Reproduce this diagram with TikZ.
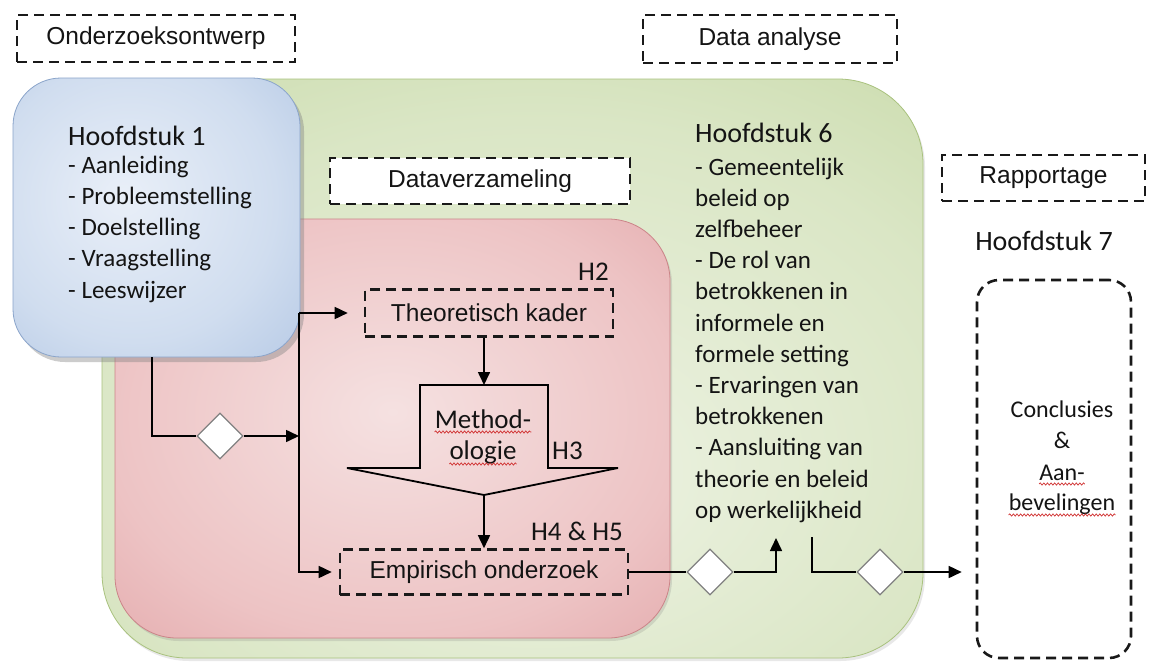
\documentclass[tikz,border=0pt]{standalone}
\usepackage{fontspec}
\setmainfont{Carlito}
\newfontfamily\lblfont{Liberation Sans}
\usetikzlibrary{arrows.meta,shapes.geometric,shadows,calc,decorations.pathmorphing}

\definecolor{txt}{HTML}{141414}
\definecolor{grnIn}{HTML}{EEF3E4}
\definecolor{grnMid}{HTML}{DAE6C5}
\definecolor{grnOut}{HTML}{B1CA84}
\definecolor{grnEdge}{HTML}{A9C27E}
\definecolor{redIn}{HTML}{F5E1E1}
\definecolor{redMid}{HTML}{EDC3C4}
\definecolor{redOut}{HTML}{D58488}
\definecolor{redEdge}{HTML}{CB8488}
\definecolor{bluIn}{HTML}{E9EFF8}
\definecolor{bluMid}{HTML}{D0DDEF}
\definecolor{bluOut}{HTML}{93AFD8}
\definecolor{bluEdge}{HTML}{8AA4CA}
\definecolor{squigred}{HTML}{D03030}

\pgfdeclareradialshading{greenglow}{\pgfpoint{2bp}{-10bp}}{color(0bp)=(grnIn); color(28bp)=(grnMid); color(62bp)=(grnOut); color(80bp)=(grnOut)}
\pgfdeclareradialshading{redglow}{\pgfpoint{0bp}{2bp}}{color(0bp)=(redIn); color(26bp)=(redMid); color(60bp)=(redOut); color(80bp)=(redOut)}
\pgfdeclareradialshading{blueglow}{\pgfpoint{-6bp}{4bp}}{color(0bp)=(bluIn); color(25bp)=(bluMid); color(62bp)=(bluOut); color(80bp)=(bluOut)}

\tikzset{
  phase/.style={inner sep=0pt, line width=0.8pt},
  dashlbl/.style={draw=black!90, line width=2.6pt, dash pattern=on 10pt off 6pt,
    font=\lblfont\fontsize{24.5}{28}\selectfont, text=txt, inner sep=0pt},
  hd/.style={font=\fontsize{28}{32}\selectfont, text=txt, inner sep=0pt},
  item/.style={font=\fontsize{25}{30}\selectfont, text=txt, inner sep=0pt},
  small/.style={font=\fontsize{24}{28}\selectfont, text=txt, inner sep=0pt},
  tag/.style={font=\fontsize{27}{30}\selectfont, text=txt, inner sep=0pt},
  conn/.style={draw=black, line width=1.6pt},
  arr/.style={conn, -{Triangle[length=13pt,width=12pt]}},
  gate/.style={diamond, draw=black!50, fill=white, line width=1.3pt,
    minimum width=46pt, minimum height=46pt, inner sep=0pt},
  squig/.style={draw=squigred, line width=0.7pt, decorate,
    decoration={snake, amplitude=1.1pt, segment length=3.6pt}},
}

\begin{document}
\begin{tikzpicture}[x=1pt,y=-1pt]
\useasboundingbox (0,0) rectangle (1155,664);
\fill[white] (0,0) rectangle (1155,664);

% phase panels
\node[phase, shading=greenglow, draw=grnEdge, rounded corners=85pt,
      minimum width=821pt, minimum height=579pt,
      drop shadow={shadow xshift=2pt, shadow yshift=-3pt, opacity=.18}]
  (analyse) at (512.5,368.5) {};
\node[phase, shading=redglow, draw=redEdge, rounded corners=62pt,
      minimum width=555pt, minimum height=419pt,
      drop shadow={shadow xshift=2pt, shadow yshift=-3pt, opacity=.22}]
  (verzamel) at (392.5,428.5) {};
\node[phase, shading=blueglow, draw=bluEdge, rounded corners=48pt,
      minimum width=287pt, minimum height=279pt,
      drop shadow={shadow xshift=4pt, shadow yshift=-5pt, opacity=.4}]
  (ch1) at (156.5,217.5) {};

% phase labels
\node[dashlbl, minimum width=278pt, minimum height=47pt] (ontw) at (156,38.5) {Onderzoeksontwerp};
\node[dashlbl, minimum width=254pt, minimum height=48pt] (dana) at (770,39) {Data analyse};
\node[dashlbl, fill=white, minimum width=300pt, minimum height=46pt] (dverz) at (480,181) {Dataverzameling};
\node[dashlbl, minimum width=203pt, minimum height=46pt] (rapp) at (1043.5,178) {Rapportage};

% steps inside data collection
\node[dashlbl, minimum width=248pt, minimum height=47pt] (tk) at (489,313) {Theoretisch kader};
\node[dashlbl, minimum width=288pt, minimum height=45pt] (emp) at (484,572) {Empirisch onderzoek};

% block arrow for the methodology
\coordinate (mtop) at (484,385);
\coordinate (mtip) at (484,495);
\draw[line width=1.8pt, line join=miter]
  (420,385) -- (mtop) -- (548,385) -- (548,468) -- (618,468) -- (mtip)
  -- (347,468) -- (420,468) -- cycle;
\node[tag, anchor=base] (mt1) at (483,428) {Method-};
\node[tag, anchor=base] (mt2) at (483,459) {ologie};
\draw[squig] ([yshift=-4pt]mt1.base west) -- ([yshift=-4pt]mt1.base east);
\draw[squig] ([yshift=-5pt]mt2.base west) -- ([yshift=-5pt]mt2.base east);

% chapter tags
\node[tag, anchor=base west] (th2) at (578,280) {H2};
\node[tag, anchor=base west] (th3) at (552,459) {H3};
\node[tag, anchor=base east] (th45) at (623,540) {H4 \& H5};

% conclusions frame
\node[draw=black!90, line width=2.6pt, dash pattern=on 10pt off 6pt, rounded corners=22pt,
      minimum width=154pt, minimum height=378pt, inner sep=0pt] (concl) at (1054,469) {};
\node[small, anchor=base] (c1) at (1062,417) {Conclusies};
\node[small, anchor=base] (c2) at (1062,448) {\&};
\node[small, anchor=base] (c3) at (1062,480) {Aan-};
\node[small, anchor=base] (c4) at (1062,510) {bevelingen};
\draw[squig] ([yshift=-4pt]c3.base west) -- ([yshift=-4pt]c3.base east);
\draw[squig] ([yshift=-5pt]c4.base west) -- ([yshift=-5pt]c4.base east);

% chapter texts
\node[hd, anchor=base west] (h1t) at (68,145) {Hoofdstuk 1};
\foreach \t [count=\i] in {- Aanleiding, - Probleemstelling, - Doelstelling, - Vraagstelling, - Leeswijzer}
  \node[item, anchor=base west] (h1i\i) at (68,141.75+31.25*\i) {\t};

\node[hd, anchor=base west] (h6t) at (695,142) {Hoofdstuk 6};
\foreach \t [count=\i] in {- Gemeentelijk, beleid op, zelfbeheer, - De rol van, betrokkenen in,
    informele en, formele setting, - Ervaringen van, betrokkenen, - Aansluiting van,
    theorie en beleid, op werkelijkheid}
  \node[item, anchor=base west] (h6i\i) at (695,143.8+31.2*\i) {\t};

\node[hd, anchor=base] (h7t) at (1044,250) {Hoofdstuk 7};

% flow connectors
\coordinate (j1) at (299,313);
\coordinate (j2) at (299,436);
\coordinate (b1) at (152,357);
\coordinate (h6up) at (776,538);
\coordinate (h6dn) at (812,537);

\node[gate] (d1) at (220,436) {};
\node[gate] (d2) at (710,572) {};
\node[gate] (d3) at (880,572) {};

\draw[arr] (j1) -- ($(tk.west)+(-16,0)$);
\draw[arr] (j1) |- ($(emp.west)+(-7,0)$);
\draw[conn] (b1) |- (d1.west);
\draw[arr] (d1.east) -- (j2);
\draw[arr] (tk.south -| mtop) -- (mtop);
\draw[arr] (mtip) -- (emp.north -| mtip);
\draw[conn] (emp.east) -- (d2.west);
\draw[arr] (d2.east) -| (h6up);
\draw[conn] (h6dn) |- (d3.west);
\draw[arr] (d3.east) -- ($(d3.east -| concl.west)+(-14,0)$);
\end{tikzpicture}
\end{document}
